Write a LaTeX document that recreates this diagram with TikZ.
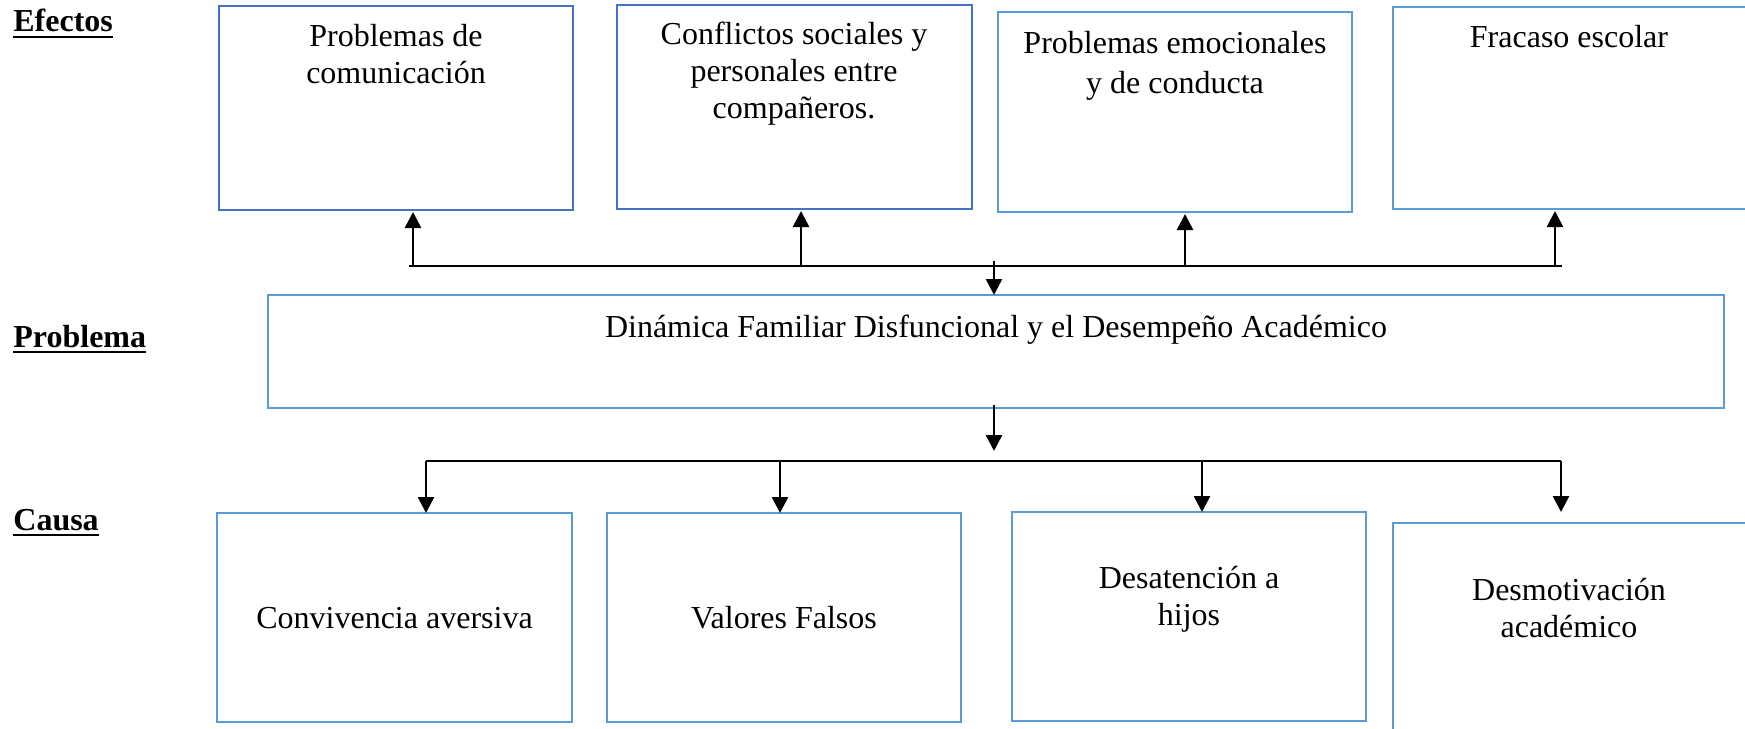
\documentclass[tikz,border=0pt]{standalone}
\usepackage{fontspec}
\setmainfont{Liberation Serif}
\usetikzlibrary{arrows.meta}
\definecolor{dblue}{HTML}{4472C4}
\definecolor{lblue}{HTML}{5B9BD5}
\newcommand{\ulab}[1]{\vtop{\hbox{\bfseries #1}\kern1.6pt\hrule height 1.3pt}}
\begin{document}
\begin{tikzpicture}[x=0.5pt,y=-0.5pt,
  box/.style={draw, line width=1.1pt, inner sep=0pt, outer sep=0pt, anchor=north west},
  dbox/.style={box, draw=dblue},
  lbox/.style={box, draw=lblue},
  txt/.style={align=center, inner sep=0pt, anchor=base, font=\fontsize{16pt}{18.4pt}\selectfont},
  lab/.style={inner sep=0pt, anchor=base west, font=\fontsize{16pt}{18.4pt}\selectfont},
  bus/.style={line width=1.3pt},
  arr/.style={line width=1.3pt, -{Triangle[length=8pt,width=8pt]}}
]
\useasboundingbox (0,0) rectangle (1745,728);

% labels
\node[lab] (lefe) at (13,32) {\ulab{Efectos}};
\node[lab] (lpro) at (13,347) {\ulab{Problema}};
\node[lab] (lcau) at (13,530) {\ulab{Causa}};

% effect boxes
\node[dbox, minimum width=177pt, minimum height=102pt] (b1) at (219,6) {};
\node[dbox, minimum width=177.5pt, minimum height=102pt] (b2) at (617,5) {};
\node[lbox, minimum width=177pt, minimum height=100pt] (b3) at (998,12) {};
\node[lbox, minimum width=179.5pt, minimum height=101pt] (b4) at (1393,7) {};

% multi-line texts: base anchor = baseline of the last line
\node[txt] (t1) at (396,83) {Problemas de\\comunicación};
\node[txt] (t2) at (794,118) {Conflictos sociales y\\personales entre\\compañeros.};
\node[txt] (t3) at (1175,93) {Problemas emocionales\\[1.6pt]y de conducta};
\node[txt] (t4) at (1569,47) {Fracaso escolar};

% problem box
\node[lbox, minimum width=728pt, minimum height=56.5pt] (p) at (268,295) {};
\node[txt] (tp) at (996,337) {Dinámica Familiar Disfuncional y el Desempeño Académico};

% cause boxes
\node[lbox, minimum width=177.5pt, minimum height=104.5pt] (b5) at (217,513) {};
\node[lbox, minimum width=177pt, minimum height=104.5pt] (b6) at (607,513) {};
\node[lbox, minimum width=177pt, minimum height=104.5pt] (b7) at (1012,512) {};
\node[lbox, minimum width=179.5pt, minimum height=108.5pt] (b8) at (1393,523) {};

\node[txt] (t5) at (394.5,628) {Convivencia aversiva};
\node[txt] (t6) at (784,628) {Valores Falsos};
\node[txt] (t7) at (1189,625) {Desatención a\\hijos};
\node[txt] (t8) at (1569,637) {Desmotivación\\académico};

% top bus
\coordinate (ts) at (409,266);
\coordinate (te) at (1562,266);
\draw[bus] (ts) -- (te);
\coordinate (u1) at (413,266);
\coordinate (u2) at (801,266);
\coordinate (u3) at (1185,266);
\coordinate (u4) at (1555,266);
\draw[arr] (u1) -- ([yshift=-1pt]u1 |- b1.south);
\draw[arr] (u2) -- ([yshift=-1pt]u2 |- b2.south);
\draw[arr] (u3) -- ([yshift=-1pt]u3 |- b3.south);
\draw[arr] (u4) -- ([yshift=-1pt]u4 |- b4.south);
\coordinate (d1) at (994,261);
\draw[arr] (d1) -- (d1 |- p.north);

% problem to causes
\coordinate (d2) at (994,405);
\coordinate (d2e) at (994,451);
\draw[arr] (d2) -- (d2e);
\coordinate (bs) at (426,461);
\coordinate (be) at (1561,461);
\draw[bus] (bs) -- (be);
\coordinate (v2) at (780,461);
\coordinate (v3) at (1202,461);
\coordinate (v4e) at (1561,512);
\draw[arr] (bs) -- (bs |- b5.north);
\draw[arr] (v2) -- (v2 |- b6.north);
\draw[arr] (v3) -- (v3 |- b7.north);
\draw[arr] (be) -- (v4e);
\end{tikzpicture}
\end{document}
